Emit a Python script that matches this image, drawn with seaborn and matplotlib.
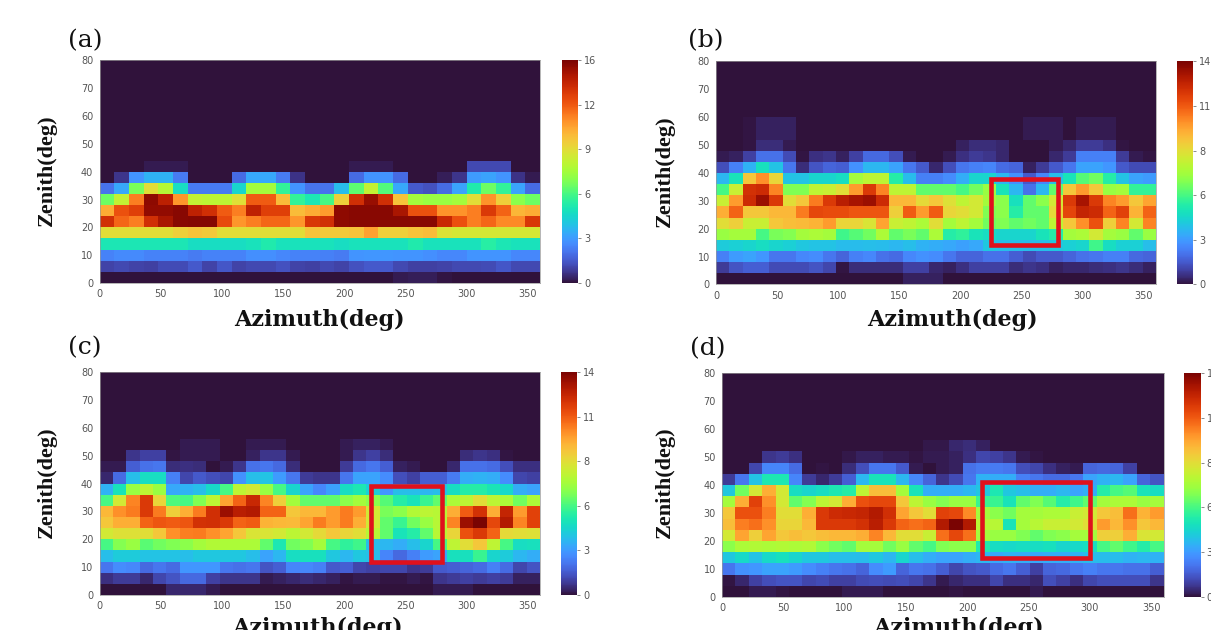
import numpy as np
import pandas as pd
import matplotlib
matplotlib.use("Agg")
import matplotlib.pyplot as plt
from matplotlib.patches import Rectangle
import seaborn as sns

# rows run from zenith 0-4 upwards, (a) has 30 azimuth bins, the others 33
E30 = [0] * 30
E33 = [0] * 33

panel_a = [
    [0, 0, 0, 0, 0, 0, 0, 0, 0, 0, 0, 0, 0, 0, 0, 0, 0, 0, 0, 0, .2, .3, .3, .1, 0, 0, 0, 0, 0, 0],
    [1.1, 1.2, 1.1, 1.0, 1.3, 1.3, 1.6, 1.1, 1.5, 1.1, 1.2, 1.2, 1.4, 1.1, 1.0, 1.2, 1.1, 1.4, 1.6, 1.6, 1.2, 1.0, 1.0, 1.1, 1.2, 1.2, 1.3, 1.5, 1.2, 1.2],
    [2.6, 2.8, 2.8, 2.6, 2.6, 2.6, 2.4, 2.6, 2.6, 2.6, 2.9, 2.9, 2.7, 2.6, 2.6, 2.5, 2.4, 3.0, 3.1, 3.1, 3.0, 3.0, 2.9, 2.7, 2.7, 3.0, 3.0, 3.0, 2.7, 2.7],
    [5.4, 5.4, 5.4, 5.4, 5.4, 5.4, 5.0, 5.0, 5.0, 5.0, 5.2, 5.6, 5.2, 5.2, 5.2, 5.2, 5.0, 5.2, 5.2, 5.2, 5.2, 5.6, 5.2, 5.2, 5.2, 5.2, 5.8, 5.4, 5.2, 5.2],
    [9.6, 9.6, 9.6, 9.6, 9.6, 10, 10.4, 10.2, 9.6, 9.6, 9.6, 9.6, 9.6, 9.6, 10.4, 10.2, 10.2, 10.4, 11.3, 10, 10, 10.4, 10.6, 9.4, 9.2, 9.2, 9.2, 9.2, 9.2, 9.2],
    [14, 12.5, 12, 14, 15, 15.7, 15.8, 15.8, 13.2, 11.5, 12, 12.5, 12.5, 11.5, 13.8, 14, 15.6, 15.7, 15.7, 15.7, 15.7, 15.7, 15.7, 14.3, 13, 12, 12.5, 11.8, 11.8, 13.8],
    [11, 13, 13.5, 15.5, 15.5, 15.7, 14.5, 14, 12.8, 12, 14.5, 13.5, 13.5, 10.6, 11, 11.4, 15.6, 15.7, 15.7, 15.7, 15, 13, 13, 11.6, 11.6, 12, 13.7, 12.6, 10.8, 11],
    [7, 8.8, 12, 15.6, 14.6, 11.5, 8.8, 8.6, 8.6, 9.5, 12.8, 12.8, 10.6, 6, 5.4, 6.4, 10, 14, 15.4, 14, 10.4, 8, 7.8, 7.8, 8, 9.6, 11.6, 10, 7.5, 7],
    [2.2, 3.5, 7.2, 9.6, 8.4, 5, 2.4, 2.4, 2.4, 4.8, 8, 8, 6, 3, 2.2, 2.2, 4, 6.8, 8.8, 6.6, 3.5, 1.6, 1.4, 2, 3.4, 5.6, 7, 6, 3.4, 2],
    [0, .8, 3, 3.8, 3.8, 2.4, 0, 0, 0, 2, 3.5, 3.5, 2.4, .7, 0, 0, 0, 2, 3, 3, 2, 0, 0, .3, .8, 3.2, 3.4, 3, .7, .2],
    [0, 0, 0, .2, .2, .2, 0, 0, 0, 0, 0, 0, 0, 0, 0, 0, 0, .2, .2, .2, 0, 0, 0, 0, 0, 1.2, 1.2, 1.2, 0, 0],
    E30, E30, E30, E30, E30, E30, E30, E30, E30,
]

panel_b = [
    [0, 0, 0, 0, 0, 0, 0, 0, 0, 0, 0, 0, 0, 0, .3, .3, .3, 0, 0, 0, 0, 0, 0, 0, 0, 0, 0, 0, 0, 0, 0, 0, 0],
    [.8, 1.3, 1.5, 1.5, 1.1, 1.1, 1.1, 1.3, 1, .1, .5, .5, .5, .5, .9, .9, .4, .3, .6, .9, .9, .9, .5, .7, .6, .3, .4, .4, .5, .6, .7, .5, .3],
    [2.2, 2.8, 3, 2.7, 2, 2, 2.4, 2.5, 2, 1.6, 2.2, 2.4, 1.9, 1.8, 2.4, 2.6, 2.5, 2, 1.6, 1.6, 1.9, 1.9, 1.5, 1.1, 1.4, 1.4, 1.6, 1.9, 2, 2.2, 2.2, 1.7, 1.6],
    [3.9, 4, 4.2, 4.4, 4.2, 4, 3.8, 3.7, 3.7, 3.5, 3.5, 3.6, 3.5, 3.4, 3.6, 3.3, 3.2, 3.1, 2.9, 3.1, 3.8, 3.6, 3.6, 3.5, 3.6, 3.8, 4, 4.2, 5.5, 4.4, 4, 4, 3.6],
    [6.8, 7, 7, 5.6, 6.3, 6.5, 7, 7.2, 7, 5.5, 5.8, 6.2, 7.2, 6, 6.3, 6, 7.2, 5, 5.2, 4.6, 4.4, 4.2, 4.2, 4.2, 4.6, 5, 7, 7.2, 8, 7, 6.8, 6, 6.8],
    [8.4, 8.8, 7.8, 7.8, 9, 9.2, 9.3, 9.5, 10, 8.6, 8.6, 8.2, 9.8, 7.8, 7.6, 7.2, 8.4, 7, 7.5, 7, 6.2, 6.4, 6, 6.2, 6, 7.5, 9, 10.2, 11.4, 8.8, 10.4, 8, 10.4],
    [9.6, 11, 9, 9, 9.4, 9.4, 10.6, 11.6, 11.5, 11.5, 11.3, 11.3, 11.3, 8.8, 11.2, 10, 11.2, 8.6, 8.4, 8, 6.4, 6.6, 5, 6, 6, 8.5, 11.7, 12.6, 12.4, 11, 11.8, 9.5, 11],
    [7.8, 10, 12.4, 13.4, 12, 8.4, 9, 10.6, 12, 12.8, 13.2, 13.4, 12.4, 9.4, 9.4, 8.5, 9, 8.3, 7.6, 8, 7, 6.6, 4.5, 6, 6.6, 8, 12, 13.2, 12, 10.4, 10, 9, 9.8],
    [5.6, 7.8, 12.2, 12.4, 10.4, 6.4, 6.4, 7.6, 7.8, 8.4, 10, 12, 10.4, 7.6, 7.6, 6, 6, 6, 5.6, 6.2, 6.8, 4.6, 3.4, 1.9, 3.4, 6, 9, 10, 9, 6.8, 7, 5.3, 5.3],
    [3.4, 4.6, 9, 10.2, 8.6, 3.7, 3.7, 4.2, 4.2, 4.4, 7, 7.5, 7.5, 5, 3.5, 2.2, 2.2, 2.5, 3.2, 4.2, 4.2, 3.4, 2.6, 1.4, 2.4, 3.6, 4.6, 5.8, 6.2, 5, 3.7, 3, 2.8],
    [1.2, 2.2, 3.3, 4.5, 3.7, 2, .5, 1.3, 1.6, 1.5, 2.6, 3.4, 3.4, 3, 2, 1.4, .4, 1.2, 2, 2.2, 2.3, 1.8, 1.6, .3, .8, 1.4, 2, 3, 3, 2.7, 1.4, 1.1, 1.1],
    [.2, .3, .9, 1.9, 1.9, 1.1, .1, .6, .7, .3, .9, 1.7, 1.7, 1.2, .2, 0, 0, .2, .6, .8, .7, .4, 0, 0, 0, .4, .8, 2.2, 2.2, 2.2, .8, .2, .1],
    [0, 0, .1, .5, .5, .2, 0, 0, 0, 0, 0, 0, 0, 0, 0, 0, 0, 0, .3, .5, .5, .4, 0, 0, 0, .2, .4, .8, .8, .6, .1, 0, 0],
    [0, 0, .1, .3, .3, .3, 0, 0, 0, 0, 0, 0, 0, 0, 0, 0, 0, 0, 0, 0, 0, 0, 0, .2, .2, .2, 0, .2, .2, .2, 0, 0, 0],
    [0, 0, .1, .3, .3, .3, 0, 0, 0, 0, 0, 0, 0, 0, 0, 0, 0, 0, 0, 0, 0, 0, 0, .2, .2, .2, 0, .2, .2, .2, 0, 0, 0],
    E33, E33, E33, E33, E33,
]

panel_c = [
    [0, 0, 0, 0, 0, .4, .4, .4, .2, 0, 0, 0, 0, 0, 0, 0, 0, 0, 0, 0, 0, 0, 0, 0, 0, .2, .2, .2, 0, 0, 0, 0, 0],
    [.6, .8, .8, .4, 1, 1.3, 1.7, 1.7, .9, .7, .7, .7, .2, .3, .4, .5, .4, .3, .1, .2, .2, .1, .1, .2, .1, .7, .8, .9, .8, .9, .8, .3, .3],
    [2, 2.5, 2.4, 1.7, 2, 1.8, 2.7, 2.7, 2.7, 2, 1.9, 2, 1.3, 1.5, 2.3, 2.4, 2.2, 1.4, 1.5, 1, .9, 1, 1, .7, .8, 1.4, 1.5, 1.6, 1.8, 2.2, 1.8, 1, 1.3],
    [3.6, 3.9, 3.9, 3.7, 3.7, 3.7, 3.6, 3.8, 3.8, 3.8, 3.8, 3.6, 3, 3.4, 4.4, 4.5, 4.5, 3.8, 3.4, 3.8, 3.6, 2.3, 1.7, 2.2, 2.8, 3, 4.5, 4.5, 5.4, 4.2, 3.9, 3.4, 3.2],
    [5.6, 6.5, 6.8, 5.9, 6.2, 6.4, 6.6, 7, 7.3, 7.2, 7.2, 7.2, 6, 4.8, 6.2, 6.4, 7, 5.6, 5.2, 5.5, 3.6, 3.4, 3.2, 3.6, 4.2, 5.6, 7.6, 8.4, 9, 7.6, 5.6, 4.4, 4.5],
    [8, 8.3, 8.3, 8.4, 9, 10.2, 10.5, 10.6, 10.2, 9.8, 9, 8.2, 8.2, 8, 7.5, 8, 8.5, 9, 8.6, 8.4, 7.4, 6, 4.6, 5, 6, 7.4, 8.6, 11.4, 12, 11, 8.5, 8.4, 8.3],
    [9, 9.6, 9.6, 11, 11.3, 11.2, 11.3, 12.2, 12.3, 12, 11, 11.2, 9.5, 9.4, 9.3, 9.8, 10.6, 10, 10.6, 9.6, 8, 6, 5.4, 6.2, 6.8, 7.4, 10.4, 13.4, 14, 11.6, 13, 10.4, 11.8],
    [9.4, 10.2, 10.6, 12, 10.6, 8.8, 9.6, 10.6, 12.3, 13.4, 12.8, 13, 11, 11, 9, 9.4, 9.4, 10, 10.6, 10, 8, 6.3, 6.6, 7.3, 7.5, 7.4, 9.6, 11.2, 12.2, 9.6, 12.6, 10, 11.8],
    [5.6, 8, 10.4, 12, 8.6, 5.7, 5.6, 6.4, 7.5, 9.8, 11, 12.5, 10.4, 8.8, 7, 6, 6, 6, 6.6, 7, 6.6, 5.8, 5, 4.6, 5.4, 6, 7.2, 7.5, 8.4, 7.5, 7.2, 6.2, 7.2],
    [3.3, 4.6, 6.8, 7.5, 6.8, 3.1, 3.3, 3.6, 4.3, 5.6, 7.6, 8, 6.8, 5.6, 4.2, 3, 2.4, 2.9, 4.4, 4.8, 4, 2.7, 3.6, 3.6, 3.4, 3.6, 4.4, 5, 5, 4.7, 4.3, 3.2, 3],
    [.4, 1.8, 3.6, 4.4, 4.4, 2.2, 1, 1.4, 1.2, 1, 2.6, 3.6, 3.7, 2.8, 2, .8, .7, .7, 2, 3, 3, 2.5, 1.2, .9, 1.5, 1.5, 2.1, 3.2, 3.3, 3.2, 2.5, 1, .9],
    [.2, .2, 1.5, 1.9, 2, .5, .6, .5, 0, .2, .7, 1.9, 2, 1.7, .5, 0, 0, 0, .8, 1.7, 2, 1.5, .3, .2, 0, 0, .4, 1.9, 1.9, 1.8, 1.2, .6, .6],
    [0, 0, .7, .9, .9, .1, .2, .2, .2, 0, 0, .3, .7, .7, .2, 0, 0, 0, .2, .7, .9, .5, 0, 0, 0, 0, 0, .5, .7, .6, .1, 0, 0],
    [0, 0, 0, 0, 0, 0, .2, .2, .2, 0, 0, .2, .2, .2, 0, 0, 0, 0, .2, .3, .3, .2, 0, 0, 0, 0, 0, 0, 0, 0, 0, 0, 0],
    E33, E33, E33, E33, E33, E33,
]

panel_d = [
    [0, 0, .2, .2, .1, 0, 0, 0, 0, .2, .2, .2, 0, 0, 0, 0, 0, .1, 0, 0, 0, 0, 0, .2, 0, 0, 0, 0, 0, 0, 0, 0, 0],
    [.1, .4, .9, 1.2, 1.3, 1.3, 1, 1.1, .9, .9, 1.1, 1.2, 1.1, 1.2, 1, .7, .2, .4, .6, .6, 1, .6, .6, .4, 1.2, .9, .6, 1, 1.2, 1.2, 1.2, 1.2, .7],
    [2, 2.6, 2.7, 3, 3, 2.8, 2.5, 2.2, 2, 1.9, 1.6, 2.5, 2.8, 1.6, 2, 1.9, 1.5, 1, 1.3, 1.4, 1.8, 2, 1.5, .9, 1.6, 1.7, 2, 2.2, 2, 2, 1.9, 1.9, 1.5],
    [3.8, 4.3, 3.7, 4.3, 4.5, 4.2, 3.8, 3.8, 3.6, 3.6, 3.5, 3.8, 3.4, 4.2, 3.6, 3.2, 3, 3, 3.2, 3.4, 3.1, 3.3, 3.2, 3.1, 3.2, 3.2, 3.3, 3.5, 3.5, 3.5, 3.3, 3.4, 3.3],
    [6.6, 7.2, 7.3, 7.2, 7.3, 7.2, 7.3, 6.6, 6.2, 6, 7, 7, 6.2, 6.8, 6, 5.6, 6.4, 6.6, 6.6, 4.9, 4.4, 4.3, 4.4, 4.4, 4.5, 4.2, 4.3, 4.4, 5.6, 6, 5.5, 5, 5.6],
    [8, 9.8, 8.8, 9.8, 9, 9.2, 9, 9.2, 9.4, 9.4, 9.6, 10.4, 9.4, 8.4, 8.4, 7.8, 10.8, 11.6, 10.8, 7, 6.8, 6.8, 6.4, 6, 6.4, 6.6, 7, 7, 8.8, 8.8, 9.6, 8.2, 8],
    [9.2, 10.5, 10.8, 10.2, 8.6, 8.6, 9.4, 12, 12, 12, 12.2, 12.8, 12, 11, 10.8, 11, 13, 14, 13, 7.4, 7.4, 4.6, 7, 7.4, 7.8, 7.8, 8, 8.4, 10, 9.4, 10.2, 9, 9.4],
    [9, 11.4, 11.4, 10.5, 8.4, 8.4, 9.6, 12, 12.4, 12.5, 12.6, 13, 12.3, 9.8, 9, 8.4, 11.8, 11.6, 10.3, 7, 6.6, 6.2, 7, 7, 7.2, 7.2, 7.8, 8, 9, 9.2, 10.8, 9.5, 10],
    [7, 9.6, 11.8, 10.2, 8, 6, 6.5, 7.5, 8, 9.6, 11.4, 11.6, 11.6, 9, 7.5, 6.8, 6.5, 6.8, 6.8, 5.4, 5.4, 4.6, 6, 6.4, 5.8, 5, 5.5, 6, 7, 7.2, 7.2, 6.8, 7],
    [3.8, 6.2, 8, 9.6, 8, 4.4, 4.2, 4.4, 4.8, 5, 7.6, 9.2, 9.2, 7, 4.6, 3.2, 3.2, 3.2, 3.4, 3.8, 4.8, 3.8, 3.6, 3.2, 3.2, 3.4, 3, 3.2, 5, 5.6, 5.8, 4.6, 4.4],
    [.8, 2, 3.7, 4.8, 4.8, 2.3, .8, .4, .8, 1.5, 3.4, 4.6, 4.6, 3.4, 2.4, 1.6, .7, 1.1, 2, 3.3, 3.2, 3.2, 2.2, 2, 1.8, 1.8, 2, 3, 3.3, 3.4, 3, 1.6, 1.3],
    [0, 0, 1, 2.3, 2.3, 1.8, 0, .1, 0, .5, 1.2, 2, 2, 1.4, .2, 0, .2, .3, 1.9, 2.1, 2.1, 2, 1.2, 1, .6, .3, .2, 1.6, 1.7, 1.6, .9, 0, 0],
    [0, 0, 0, .7, .8, .6, 0, 0, 0, .15, .3, .3, .2, .2, .1, .2, .2, .3, .6, 1, .9, .7, .2, .1, 0, 0, 0, 0, 0, 0, 0, 0, 0],
    [0, 0, 0, 0, 0, 0, 0, 0, 0, 0, 0, 0, 0, 0, 0, .15, .15, .4, .5, .3, 0, 0, 0, 0, 0, 0, 0, 0, 0, 0, 0, 0, 0],
    E33, E33, E33, E33, E33, E33,
]

az_ticks = [0, 50, 100, 150, 200, 250, 300, 350]
zen_ticks = [0, 10, 20, 30, 40, 50, 60, 70, 80]
cbar_a = ["0", "3", "6", "9", "12", "16"]
cbar_rest = ["0", "3", "6", "8", "11", "14"]
names = ["(a)", "(b)", "(c)", "(d)"]
vmaxes = [16, 14, 14, 14]
W, H = 1211, 630


def px_rect(x0, x1, y0, y1):
    return [x0 / W, 1 - y1 / H, (x1 - x0) / W, (y1 - y0) / H]


def draw_panel(data, name, vmax, cbar_labels, box, ax_px, cb_px, lab_xy, azi_xy, zen_xy):
    ax = fig.add_axes(px_rect(*ax_px))
    cax = fig.add_axes(px_rect(*cb_px))
    df = pd.DataFrame(data)
    sns.heatmap(df, ax=ax, cbar_ax=cax, cmap="turbo", vmin=0, vmax=vmax,
                xticklabels=False, yticklabels=False)
    ax.invert_yaxis()
    ax.set_xlabel("")
    ax.set_ylabel("")
    # heatmap axes count cells, so go from degrees to cell units
    xscale = df.shape[1] / 360
    yscale = df.shape[0] / 80
    ax.set_xticks(np.array(az_ticks) * xscale)
    ax.set_xticklabels(az_ticks)
    ax.set_yticks(np.array(zen_ticks) * yscale)
    ax.set_yticklabels(zen_ticks, rotation=0)
    ax.tick_params(length=2.5, width=0.6, labelsize=7, color="#777777",
                   labelcolor="#555555", pad=2)
    for s in ax.spines.values():
        s.set_visible(True)
        s.set_color("#999999")
        s.set_linewidth(0.5)

    cax.set_yticks(np.linspace(0, vmax, 6))
    cax.set_yticklabels(cbar_labels)
    cax.tick_params(length=2.5, width=0.6, labelsize=7, color="#777777",
                    labelcolor="#555555", pad=2)

    if box is not None:
        az0, az1, z0, z1 = box
        ax.add_patch(Rectangle((az0 * xscale, z0 * yscale), (az1 - az0) * xscale,
                               (z1 - z0) * yscale, fill=False,
                               edgecolor="#e0101c", linewidth=3.3))

    fig.text(lab_xy[0] / W, 1 - lab_xy[1] / H, name, family="DejaVu Serif",
             fontsize=18, color="#111111", ha="left", va="center")
    fig.text(azi_xy[0] / W, 1 - azi_xy[1] / H, "Azimuth(deg)", family="DejaVu Serif",
             fontweight="bold", fontsize=16, color="#111111", ha="center", va="center")
    fig.text(zen_xy[0] / W, 1 - zen_xy[1] / H, "Zenith(deg)", family="Liberation Serif",
             fontweight="bold", fontsize=16, color="#111111", rotation=90,
             ha="center", va="center")


sns.set_theme(style="white")
fig = plt.figure(figsize=(W / 100, H / 100), dpi=100, facecolor="white")

draw_panel(panel_a, names[0], vmaxes[0], cbar_a, None,
           (99.5, 540, 60.5, 283), (562, 578, 60.5, 283), (68, 41), (319, 320), (47, 170))
draw_panel(panel_b, names[1], vmaxes[1], cbar_rest, (225, 280, 14, 38),
           (716, 1156, 61.5, 284.5), (1177, 1193, 61.5, 284.5), (688, 41), (952, 320), (665, 171))
draw_panel(panel_c, names[2], vmaxes[2], cbar_rest, (222, 280, 12, 39),
           (99.5, 540, 372, 595), (561, 577, 372, 595), (68, 348), (317, 628), (47, 482))
draw_panel(panel_d, names[3], vmaxes[3], cbar_rest, (212, 300, 14, 41),
           (722, 1163.5, 373, 597), (1184, 1200.5, 373, 597), (690, 349), (958, 628), (665, 482))

fig.savefig("out.png", dpi=100)
